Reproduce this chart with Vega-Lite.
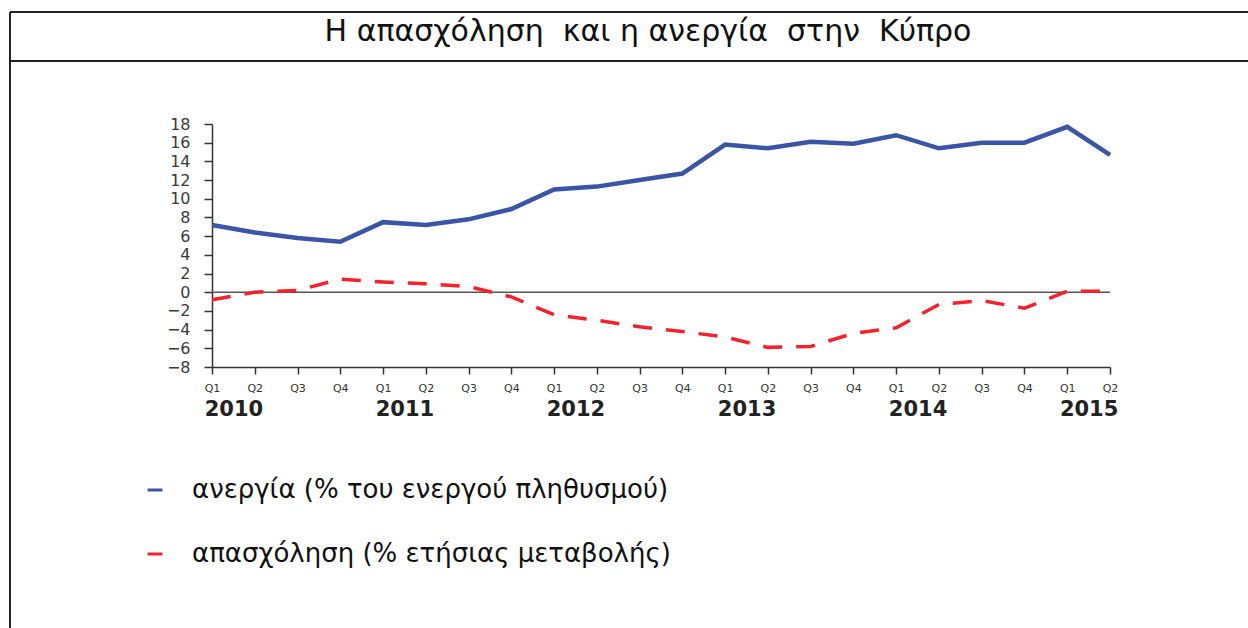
{
  "$schema": "https://vega.github.io/schema/vega-lite/v6.json",
  "autosize": "none",
  "width": 898,
  "height": 243,
  "padding": {"left": 212, "top": 124, "right": 138, "bottom": 261},
  "background": "white",
  "title": {
    "text": "Η απασχόληση\u00a0 και η ανεργία\u00a0 στην\u00a0 Κύπρο",
    "frame": "group",
    "anchor": "middle",
    "orient": "top",
    "offset": 0,
    "dy": 60,
    "dx": -13,
    "baseline": "alphabetic",
    "font": "DejaVu Sans",
    "fontSize": 30,
    "fontWeight": "normal",
    "color": "#111111"
  },
  "config": {
    "view": {"stroke": null},
    "font": "DejaVu Sans",
    "axis": {"grid": false, "domainColor": "#333333", "domainWidth": 1.5, "tickColor": "#333333", "tickWidth": 1.5, "title": null}
  },
  "datasets": {
    "series": [
      {"t": 0, "period": "2010 Q1", "series": "ανεργία (% του ενεργού πληθυσμού)", "value": 7.2},
      {"t": 1, "period": "2010 Q2", "series": "ανεργία (% του ενεργού πληθυσμού)", "value": 6.4},
      {"t": 2, "period": "2010 Q3", "series": "ανεργία (% του ενεργού πληθυσμού)", "value": 5.8},
      {"t": 3, "period": "2010 Q4", "series": "ανεργία (% του ενεργού πληθυσμού)", "value": 5.4},
      {"t": 4, "period": "2011 Q1", "series": "ανεργία (% του ενεργού πληθυσμού)", "value": 7.5},
      {"t": 5, "period": "2011 Q2", "series": "ανεργία (% του ενεργού πληθυσμού)", "value": 7.2},
      {"t": 6, "period": "2011 Q3", "series": "ανεργία (% του ενεργού πληθυσμού)", "value": 7.8},
      {"t": 7, "period": "2011 Q4", "series": "ανεργία (% του ενεργού πληθυσμού)", "value": 8.9},
      {"t": 8, "period": "2012 Q1", "series": "ανεργία (% του ενεργού πληθυσμού)", "value": 11.0},
      {"t": 9, "period": "2012 Q2", "series": "ανεργία (% του ενεργού πληθυσμού)", "value": 11.3},
      {"t": 10, "period": "2012 Q3", "series": "ανεργία (% του ενεργού πληθυσμού)", "value": 12.0},
      {"t": 11, "period": "2012 Q4", "series": "ανεργία (% του ενεργού πληθυσμού)", "value": 12.7},
      {"t": 12, "period": "2013 Q1", "series": "ανεργία (% του ενεργού πληθυσμού)", "value": 15.8},
      {"t": 13, "period": "2013 Q2", "series": "ανεργία (% του ενεργού πληθυσμού)", "value": 15.4},
      {"t": 14, "period": "2013 Q3", "series": "ανεργία (% του ενεργού πληθυσμού)", "value": 16.1},
      {"t": 15, "period": "2013 Q4", "series": "ανεργία (% του ενεργού πληθυσμού)", "value": 15.9},
      {"t": 16, "period": "2014 Q1", "series": "ανεργία (% του ενεργού πληθυσμού)", "value": 16.8},
      {"t": 17, "period": "2014 Q2", "series": "ανεργία (% του ενεργού πληθυσμού)", "value": 15.4},
      {"t": 18, "period": "2014 Q3", "series": "ανεργία (% του ενεργού πληθυσμού)", "value": 16.0},
      {"t": 19, "period": "2014 Q4", "series": "ανεργία (% του ενεργού πληθυσμού)", "value": 16.0},
      {"t": 20, "period": "2015 Q1", "series": "ανεργία (% του ενεργού πληθυσμού)", "value": 17.7},
      {"t": 21, "period": "2015 Q2", "series": "ανεργία (% του ενεργού πληθυσμού)", "value": 14.7},
      {"t": 0, "period": "2010 Q1", "series": "απασχόληση (% ετήσιας μεταβολής)", "value": -0.8},
      {"t": 1, "period": "2010 Q2", "series": "απασχόληση (% ετήσιας μεταβολής)", "value": 0.0},
      {"t": 2, "period": "2010 Q3", "series": "απασχόληση (% ετήσιας μεταβολής)", "value": 0.2},
      {"t": 3, "period": "2010 Q4", "series": "απασχόληση (% ετήσιας μεταβολής)", "value": 1.4},
      {"t": 4, "period": "2011 Q1", "series": "απασχόληση (% ετήσιας μεταβολής)", "value": 1.1},
      {"t": 5, "period": "2011 Q2", "series": "απασχόληση (% ετήσιας μεταβολής)", "value": 0.9},
      {"t": 6, "period": "2011 Q3", "series": "απασχόληση (% ετήσιας μεταβολής)", "value": 0.6},
      {"t": 7, "period": "2011 Q4", "series": "απασχόληση (% ετήσιας μεταβολής)", "value": -0.5},
      {"t": 8, "period": "2012 Q1", "series": "απασχόληση (% ετήσιας μεταβολής)", "value": -2.4},
      {"t": 9, "period": "2012 Q2", "series": "απασχόληση (% ετήσιας μεταβολής)", "value": -3.0},
      {"t": 10, "period": "2012 Q3", "series": "απασχόληση (% ετήσιας μεταβολής)", "value": -3.7},
      {"t": 11, "period": "2012 Q4", "series": "απασχόληση (% ετήσιας μεταβολής)", "value": -4.2},
      {"t": 12, "period": "2013 Q1", "series": "απασχόληση (% ετήσιας μεταβολής)", "value": -4.8},
      {"t": 13, "period": "2013 Q2", "series": "απασχόληση (% ετήσιας μεταβολής)", "value": -5.9},
      {"t": 14, "period": "2013 Q3", "series": "απασχόληση (% ετήσιας μεταβολής)", "value": -5.8},
      {"t": 15, "period": "2013 Q4", "series": "απασχόληση (% ετήσιας μεταβολής)", "value": -4.4},
      {"t": 16, "period": "2014 Q1", "series": "απασχόληση (% ετήσιας μεταβολής)", "value": -3.8},
      {"t": 17, "period": "2014 Q2", "series": "απασχόληση (% ετήσιας μεταβολής)", "value": -1.3},
      {"t": 18, "period": "2014 Q3", "series": "απασχόληση (% ετήσιας μεταβολής)", "value": -0.9},
      {"t": 19, "period": "2014 Q4", "series": "απασχόληση (% ετήσιας μεταβολής)", "value": -1.7},
      {"t": 20, "period": "2015 Q1", "series": "απασχόληση (% ετήσιας μεταβολής)", "value": 0.1},
      {"t": 21, "period": "2015 Q2", "series": "απασχόληση (% ετήσιας μεταβολής)", "value": 0.1}
    ]
  },
  "layer": [
    {
      "data": {"values": [{}]},
      "mark": {"type": "rule", "color": "#222222", "strokeWidth": 2},
      "encoding": {"x": {"value": -202}, "y": {"value": -112}, "y2": {"value": 520}}
    },
    {
      "data": {"values": [{}]},
      "mark": {"type": "rule", "color": "#222222", "strokeWidth": 2},
      "encoding": {"x": {"value": -202}, "x2": {"value": 1100}, "y": {"value": -112}}
    },
    {
      "data": {"values": [{}]},
      "mark": {"type": "rule", "color": "#222222", "strokeWidth": 2},
      "encoding": {"x": {"value": -202}, "x2": {"value": 1100}, "y": {"value": -63}}
    },
    {
      "data": {"values": [{}]},
      "mark": {"type": "rule", "color": "#555555", "strokeWidth": 1.5},
      "encoding": {
        "x": {
          "datum": 0,
          "type": "quantitative",
          "scale": {"domain": [0, 21], "nice": false, "zero": false},
          "axis": {
            "orient": "bottom",
            "values": [0.5, 4.5, 8.5, 12.5, 16.5, 20.5],
            "labelExpr": "toString(2010 + floor(datum.value / 4))",
            "domain": false,
            "ticks": false,
            "labelPadding": 31,
            "labelFont": "DejaVu Sans",
            "labelFontSize": 21,
            "labelFontWeight": "bold",
            "labelColor": "#222222",
            "labelBaseline": "top",
            "labelOverlap": false,
            "labelFlush": false
          }
        },
        "x2": {"datum": 21},
        "y": {
          "datum": 0,
          "type": "quantitative",
          "scale": {"domain": [-8, 18], "nice": false},
          "axis": {
            "values": [-8,-6,-4,-2,0,2,4,6,8,10,12,14,16,18],
            "labelOverlap": false,
            "labelFlush": false,
            "tickSize": 8,
            "labelPadding": 14,
            "labelFont": "DejaVu Sans",
            "labelFontSize": 16,
            "labelColor": "#3a3a3a"
          }
        }
      }
    },
    {
      "data": {"name": "series"},
      "transform": [{"filter": "datum.series === 'ανεργία (% του ενεργού πληθυσμού)'"}],
      "mark": {"type": "line", "strokeCap": "butt", "strokeJoin": "miter", "strokeWidth": 4.5},
      "encoding": {
        "x": {
          "field": "t",
          "type": "quantitative",
          "scale": {"domain": [0, 21], "nice": false, "zero": false},
          "axis": {
            "orient": "bottom",
            "values": [0,1,2,3,4,5,6,7,8,9,10,11,12,13,14,15,16,17,18,19,20,21],
            "labelExpr": "'Q' + (datum.value % 4 + 1)",
            "tickSize": 7,
            "labelPadding": 8,
            "labelFont": "DejaVu Sans",
            "labelFontSize": 11,
            "labelColor": "#333333",
            "labelOverlap": false,
            "labelFlush": false
          }
        },
        "y": {
          "field": "value",
          "type": "quantitative",
          "scale": {"domain": [-8, 18], "nice": false},
          "axis": {
            "values": [-8,-6,-4,-2,0,2,4,6,8,10,12,14,16,18],
            "labelOverlap": false,
            "labelFlush": false,
            "tickSize": 8,
            "labelPadding": 14,
            "labelFont": "DejaVu Sans",
            "labelFontSize": 16,
            "labelColor": "#3a3a3a"
          }
        },
        "color": {
          "field": "series",
          "type": "nominal",
          "scale": {"domain": ["ανεργία (% του ενεργού πληθυσμού)", "απασχόληση (% ετήσιας μεταβολής)"], "range": ["#3a55a6", "#f5222d"]},
          "legend": {
            "orient": "none",
            "legendX": -70,
            "legendY": 353,
            "title": null,
            "direction": "vertical",
            "symbolType": "stroke",
            "symbolSize": 220,
            "symbolStrokeWidth": 3,
            "labelFont": "DejaVu Sans",
            "labelFontSize": 26,
            "labelColor": "#111111",
            "labelLimit": 0,
            "labelOffset": 24,
            "rowPadding": 38
          }
        }
      }
    },
    {
      "data": {"name": "series"},
      "transform": [{"filter": "datum.series === 'απασχόληση (% ετήσιας μεταβολής)'"}],
      "mark": {"type": "line", "strokeCap": "butt", "strokeJoin": "miter", "strokeWidth": 3.5, "strokeDash": [19, 14]},
      "encoding": {
        "x": {"field": "t", "type": "quantitative", "axis": null},
        "y": {
          "field": "value",
          "type": "quantitative",
          "axis": {
            "values": [-8,-6,-4,-2,0,2,4,6,8,10,12,14,16,18],
            "labelOverlap": false,
            "labelFlush": false,
            "tickSize": 8,
            "labelPadding": 14,
            "labelFont": "DejaVu Sans",
            "labelFontSize": 16,
            "labelColor": "#3a3a3a"
          }
        },
        "color": {"field": "series", "type": "nominal", "legend": null}
      }
    }
  ],
  "resolve": {"axis": {"x": "independent"}}
}
